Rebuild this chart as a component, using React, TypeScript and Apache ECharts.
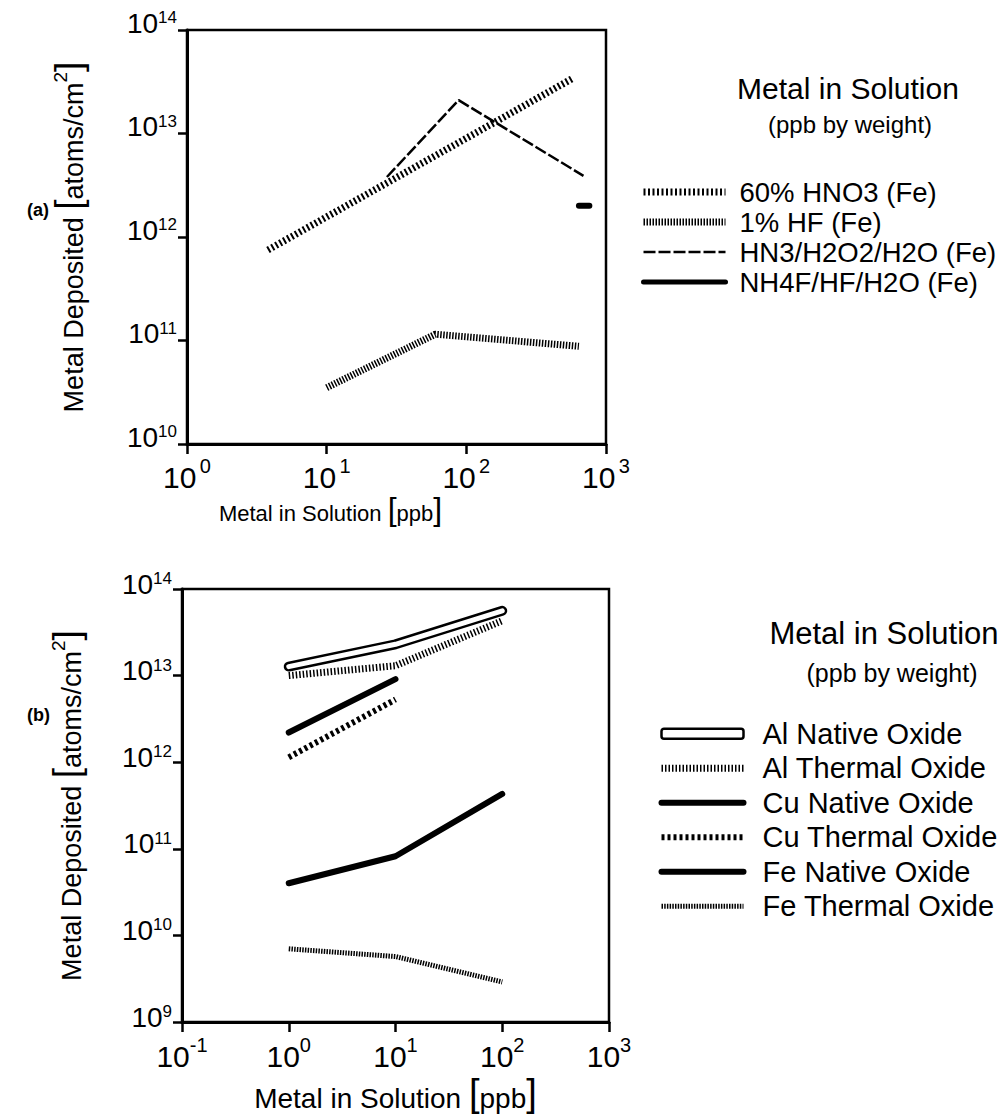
import React, { useEffect, useRef } from 'react';
import * as echarts from 'echarts';

const FONT = '"Liberation Sans", Arial, Helvetica, sans-serif';

// ---- (a) top panel data ----
const hno3X = [3.8, 575];
const hno3Y = [7.5e11, 3.4e13];
const hfX = [10, 60, 640];
const hfY = [3.5e10, 1.15e11, 8.8e10];
const hn3X = [27, 88, 690];
const hn3Y = [3.8e12, 2.1e13, 3.9e12];
const nh4fX = [640, 760];
const nh4fY = [2e12, 2e12];

// ---- (b) bottom panel data ----
const oxideX = [1, 10, 100];
const cuX = [1, 10];
const alNativeY = [1.27e13, 2.3e13, 5.6e13];
const alThermalY = [1.0e13, 1.3e13, 4.3e13];
const cuNativeY = [2.2e12, 9.1e12];
const cuThermalY = [1.14e12, 5.3e12];
const feNativeY = [4.0e10, 8.2e10, 4.3e11];
const feThermalY = [7.0e9, 5.7e9, 2.9e9];

const topNames = ['60% HNO3 (Fe)', '1% HF (Fe)', 'HN3/H2O2/H2O (Fe)', 'NH4F/HF/H2O (Fe)'];
const bottomNames = ['Al Native Oxide', 'Al Thermal Oxide', 'Cu Native Oxide', 'Cu Thermal Oxide', 'Fe Native Oxide', 'Fe Thermal Oxide'];

const pairs = (xs: number[], ys: number[]) => xs.map((x, i) => [x, ys[i]]);

export default function App() {
  const ref = useRef<HTMLDivElement>(null);
  useEffect(() => {
    if (!ref.current) return;
    const chart = echarts.init(ref.current, null, { renderer: 'svg' });

    const expOf = (v: number) => Math.round(Math.log10(v));
    // both tokens top-aligned in a tall line box, so the glyphs sit above the tick
    const yLabelRich = (boxH: number) => ({
      b: { fontSize: 28, fontFamily: FONT, color: '#000', lineHeight: boxH, verticalAlign: 'top' },
      s: { fontSize: 17, fontFamily: FONT, color: '#000', lineHeight: boxH, verticalAlign: 'top' },
    });
    const xLabelRich = {
      b: { fontSize: 30, fontFamily: FONT, color: '#000', lineHeight: 36, verticalAlign: 'bottom' },
      s: { fontSize: 20, fontFamily: FONT, color: '#000', lineHeight: 20, verticalAlign: 'top' },
    };
    const axisLine = { show: true, lineStyle: { color: '#000', width: 3 } };
    const axisTickOut = (len: number) => ({ show: true, inside: false, length: len, lineStyle: { color: '#000', width: 2.5 } });

    const yName = '{n|Metal Deposited }{k|[}{n|atoms/cm}{s|2}{k|]}';
    const nameRich = (size: number) => ({
      n: { fontSize: size, fontFamily: FONT, color: '#000', lineHeight: 36, verticalAlign: 'bottom' },
      k: { fontSize: size + 10, fontFamily: FONT, color: '#000', lineHeight: 36, verticalAlign: 'bottom' },
      s: { fontSize: size - 8, fontFamily: FONT, color: '#000', lineHeight: 14, verticalAlign: 'top' },
    });

    const option: any = {
      animation: false,
      backgroundColor: '#fff',
      color: ['#000'],
      grid: [
        { left: 187, top: 30, width: 419, height: 414, show: true, borderColor: '#000', borderWidth: 2.5, backgroundColor: 'transparent' },
        { left: 182, top: 589, width: 427, height: 433, show: true, borderColor: '#000', borderWidth: 2.5, backgroundColor: 'transparent' },
      ],
      xAxis: [
        {
          type: 'log', logBase: 10, gridIndex: 0, min: 1, max: 1000,
          axisLine, axisTick: axisTickOut(10), splitLine: { show: false }, minorTick: { show: false },
          axisLabel: { margin: 12, formatter: (v: number) => `{b|10} {s|${expOf(v)}}`, rich: xLabelRich },
          name: '{n|Metal in Solution }{k|[}{n|ppb}{k|]}', nameLocation: 'middle', nameGap: 43,
          nameTextStyle: { rich: nameRich(22), padding: [0, 132, 0, 0] },
        },
        {
          type: 'log', logBase: 10, gridIndex: 1, min: 0.1, max: 1000,
          axisLine, axisTick: axisTickOut(10), splitLine: { show: false }, minorTick: { show: false },
          axisLabel: { margin: 13, formatter: (v: number) => `{b|10}{s|${expOf(v)}}`, rich: xLabelRich },
          name: '{n|Metal in Solution }{k|[}{n|ppb}{k|]}', nameLocation: 'middle', nameGap: 54,
          nameTextStyle: { rich: nameRich(28) },
        },
      ],
      yAxis: [
        {
          type: 'log', logBase: 10, gridIndex: 0, min: 1e10, max: 1e14,
          axisLine, axisTick: axisTickOut(9), splitLine: { show: false }, minorTick: { show: false },
          axisLabel: { margin: 10, formatter: (v: number) => `{b|10}{s|${expOf(v)}}`, rich: yLabelRich(42) },
          name: yName, nameLocation: 'middle', nameGap: 100,
          nameTextStyle: { rich: nameRich(27) },
        },
        {
          type: 'log', logBase: 10, gridIndex: 1, min: 1e9, max: 1e14,
          axisLine, axisTick: axisTickOut(9), splitLine: { show: false }, minorTick: { show: false },
          axisLabel: { margin: 10, formatter: (v: number) => `{b|10}{s|${expOf(v)}}`, rich: yLabelRich(38) },
          name: yName, nameLocation: 'middle', nameGap: 97,
          nameTextStyle: { rich: nameRich(27) },
        },
      ],
      legend: [
        {
          orient: 'vertical', left: 635, top: 173, itemWidth: 82, itemHeight: 10, itemGap: 2,
          selectedMode: false,
          itemStyle: { opacity: 0 },
          textStyle: { fontSize: 27.5, lineHeight: 27, fontFamily: FONT, color: '#000', padding: [0, 0, 0, 9] },
          data: [
            { name: topNames[0], lineStyle: { width: 7 } },
            { name: topNames[1], lineStyle: { width: 7 } },
            { name: topNames[2], lineStyle: { width: 2.5 } },
            { name: topNames[3], lineStyle: { width: 5 } },
          ],
        },
        {
          orient: 'vertical', left: 653, top: 714, itemWidth: 82, itemHeight: 10, itemGap: 5,
          selectedMode: false,
          itemStyle: { opacity: 0 },
          textStyle: { fontSize: 29, lineHeight: 29.5, fontFamily: FONT, color: '#000', padding: [0, 0, 0, 14] },
          data: [
            { name: bottomNames[0], icon: 'roundRect', itemStyle: { opacity: 1, color: '#fff', borderColor: '#000', borderWidth: 2.5 } },
            { name: bottomNames[1], lineStyle: { width: 7 } },
            { name: bottomNames[2], lineStyle: { width: 6 } },
            { name: bottomNames[3], lineStyle: { width: 6 } },
            { name: bottomNames[4], lineStyle: { width: 6 } },
            { name: bottomNames[5], lineStyle: { width: 5 } },
          ],
        },
      ],
      graphic: [
        { type: 'text', left: 27, top: 201, style: { text: '(a)', fontSize: 18, fontWeight: 'bold', fontFamily: FONT, fill: '#000' } },
        { type: 'text', left: 27, top: 706, style: { text: '(b)', fontSize: 18, fontWeight: 'bold', fontFamily: FONT, fill: '#000' } },
        { type: 'text', x: 848, y: 88, style: { text: 'Metal in Solution', fontSize: 30, fontFamily: FONT, fill: '#000', align: 'center', verticalAlign: 'middle' } },
        { type: 'text', x: 850, y: 124, style: { text: '(ppb by weight)', fontSize: 24, fontFamily: FONT, fill: '#000', align: 'center', verticalAlign: 'middle' } },
        { type: 'text', x: 884, y: 633, style: { text: 'Metal in Solution', fontSize: 31, fontFamily: FONT, fill: '#000', align: 'center', verticalAlign: 'middle' } },
        { type: 'text', x: 892, y: 673, style: { text: '(ppb by weight)', fontSize: 25, fontFamily: FONT, fill: '#000', align: 'center', verticalAlign: 'middle' } },
      ],
      series: [
        { name: topNames[0], type: 'line', xAxisIndex: 0, yAxisIndex: 0, symbol: 'none', data: pairs(hno3X, hno3Y),
          lineStyle: { color: '#000', width: 7, type: [2, 2.5] } },
        { name: topNames[1], type: 'line', xAxisIndex: 0, yAxisIndex: 0, symbol: 'none', data: pairs(hfX, hfY),
          lineStyle: { color: '#000', width: 7, type: [1.5, 1.5] } },
        { name: topNames[2], type: 'line', xAxisIndex: 0, yAxisIndex: 0, symbol: 'none', data: pairs(hn3X, hn3Y),
          lineStyle: { color: '#000', width: 2.5, type: [12, 3] } },
        { name: topNames[3], type: 'line', xAxisIndex: 0, yAxisIndex: 0, symbol: 'none', data: pairs(nh4fX, nh4fY),
          lineStyle: { color: '#000', width: 6, cap: 'round' } },

        { name: bottomNames[0], type: 'line', xAxisIndex: 1, yAxisIndex: 1, symbol: 'none', data: pairs(oxideX, alNativeY), z: 2,
          lineStyle: { color: '#000', width: 10, cap: 'round', join: 'round' } },
        { name: 'Al Native Oxide (inner)', type: 'line', xAxisIndex: 1, yAxisIndex: 1, symbol: 'none', data: pairs(oxideX, alNativeY), z: 3,
          lineStyle: { color: '#fff', width: 5, cap: 'round', join: 'round' } },
        { name: bottomNames[1], type: 'line', xAxisIndex: 1, yAxisIndex: 1, symbol: 'none', data: pairs(oxideX, alThermalY),
          lineStyle: { color: '#000', width: 7, type: [1.5, 2] } },
        { name: bottomNames[2], type: 'line', xAxisIndex: 1, yAxisIndex: 1, symbol: 'none', data: pairs(cuX, cuNativeY),
          lineStyle: { color: '#000', width: 6, cap: 'round' } },
        { name: bottomNames[3], type: 'line', xAxisIndex: 1, yAxisIndex: 1, symbol: 'none', data: pairs(cuX, cuThermalY),
          lineStyle: { color: '#000', width: 6, type: [3, 3] } },
        { name: bottomNames[4], type: 'line', xAxisIndex: 1, yAxisIndex: 1, symbol: 'none', data: pairs(oxideX, feNativeY),
          lineStyle: { color: '#000', width: 6, cap: 'round' } },
        { name: bottomNames[5], type: 'line', xAxisIndex: 1, yAxisIndex: 1, symbol: 'none', data: pairs(oxideX, feThermalY),
          lineStyle: { color: '#000', width: 5, type: [1.5, 1.2] } },
      ],
    };

    chart.setOption(option);
    return () => chart.dispose();
  }, []);

  return (
    <div
      ref={ref}
      style={{ position: 'absolute', left: 0, top: 0, width: 1001, height: 1114, background: '#fff' }}
    />
  );
}
